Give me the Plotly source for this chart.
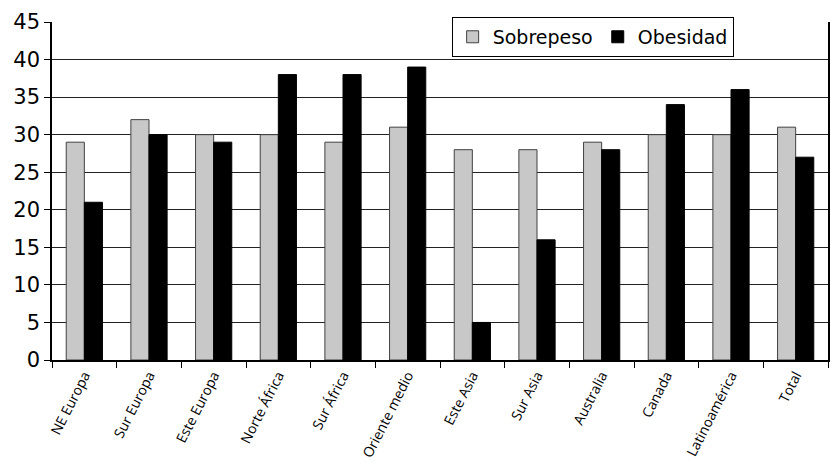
import plotly.graph_objects as go

regiones = ["NE Europa", "Sur Europa", "Este Europa", "Norte África", "Sur África",
            "Oriente medio", "Este Asia", "Sur Asia", "Australia", "Canada",
            "Latinoamérica", "Total"]
sobrepeso = [29, 32, 30, 30, 29, 31, 28, 28, 29, 30, 30, 31]
obesidad = [21, 30, 29, 38, 38, 39, 5, 16, 28, 34, 36, 27]
y_ticks = [0, 5, 10, 15, 20, 25, 30, 35, 40, 45]

fig = go.Figure()
fig.add_trace(go.Bar(name="Sobrepeso", x=regiones, y=sobrepeso,
                     marker=dict(color="#c8c8c8", line=dict(color="#404040", width=1))))
fig.add_trace(go.Bar(name="Obesidad", x=regiones, y=obesidad,
                     marker=dict(color="#000000", line=dict(color="#000000", width=1))))

fig.update_layout(
    width=831, height=463,
    margin=dict(l=52, r=3, t=22, b=103),
    paper_bgcolor="white", plot_bgcolor="white",
    barmode="group", bargap=0.44, bargroupgap=0,
    font=dict(family="DejaVu Sans", color="black"),
    showlegend=True,
    legend=dict(orientation="h", x=0.515, y=1.015, xanchor="left", yanchor="top",
                bordercolor="black", borderwidth=1, bgcolor="white",
                font=dict(size=19, family="DejaVu Sans"),
                itemwidth=30, tracegroupgap=0),
    xaxis=dict(tickangle=-63, tickfont=dict(size=14, family="Open Sans"),
               ticks="outside", tickson="boundaries", ticklen=6, tickcolor="black",
               showline=True, linecolor="black", linewidth=1.5,
               showgrid=False, automargin=False),
    yaxis=dict(range=[0, 45], tickvals=y_ticks, tickfont=dict(size=21, family="DejaVu Sans"),
               ticks="outside", ticklen=6, tickcolor="black",
               showline=True, linecolor="black", linewidth=1.5, mirror=True,
               showgrid=True, gridcolor="#222222", gridwidth=1, zeroline=False,
               automargin=False),
)

fig.write_html("out.html")
